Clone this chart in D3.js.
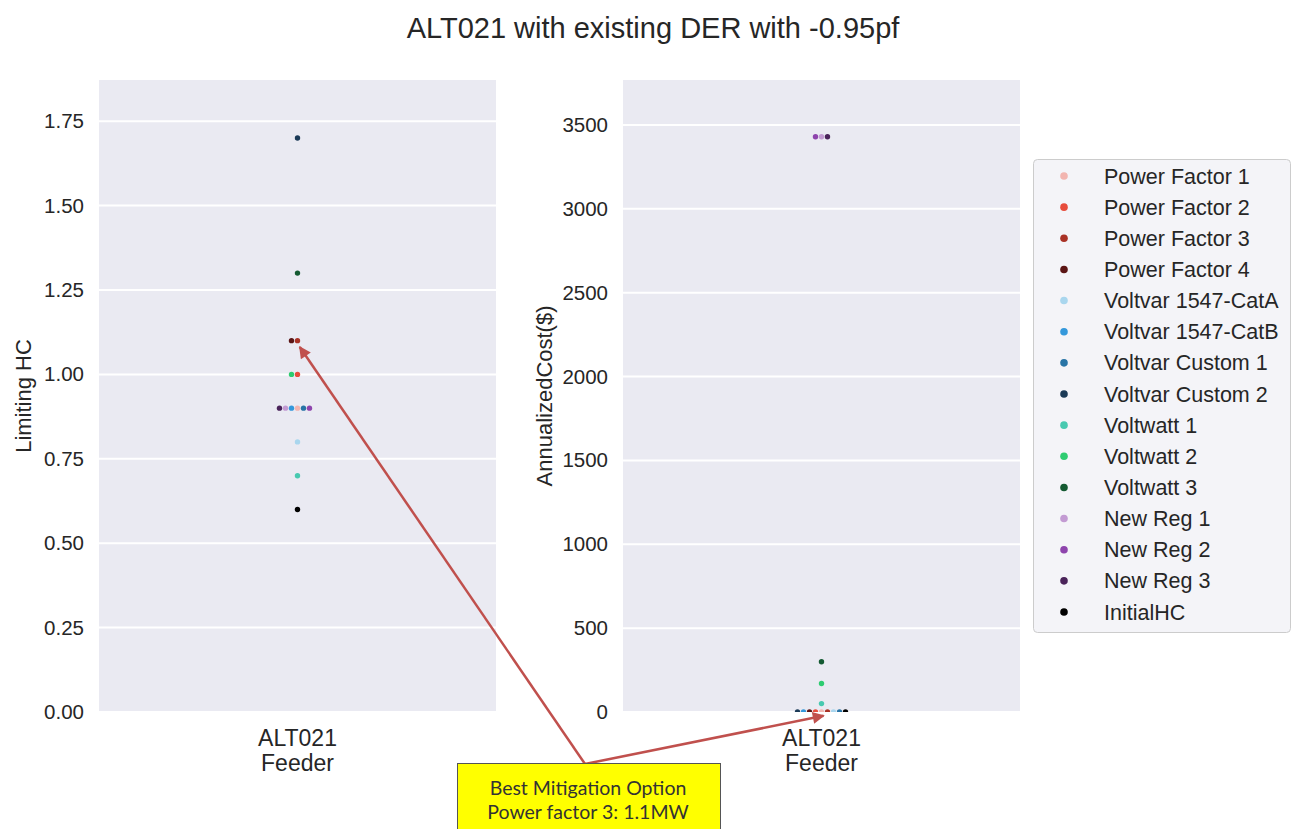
<!DOCTYPE html>
<html>
<head>
<meta charset="utf-8">
<script src="https://cdn.jsdelivr.net/npm/d3@7"></script>
<style>
  body { margin: 0; background: #fff; }
  text { font-family: "Liberation Sans", Arial, sans-serif; fill: #262626; }
</style>
</head>
<body>
<div id="chart"></div>
<script>
// data
const feeders = ['ALT021'];
const options = ['Power Factor 1', 'Power Factor 2', 'Power Factor 3', 'Power Factor 4',
  'Voltvar 1547-CatA', 'Voltvar 1547-CatB', 'Voltvar Custom 1', 'Voltvar Custom 2',
  'Voltwatt 1', 'Voltwatt 2', 'Voltwatt 3', 'New Reg 1', 'New Reg 2', 'New Reg 3', 'InitialHC'];
const optionColors = ['#f2b5b0', '#e74c3c', '#a93226', '#5b1515',
  '#a9d6ee', '#3498db', '#2874a6', '#1b3a57',
  '#48c9b0', '#2ecc71', '#145a32', '#c39bd3', '#8e44ad', '#4a235a', '#000000'];
const limitingHC = [0.9, 1.0, 1.1, 1.1, 0.8, 0.9, 0.9, 1.7, 0.7, 1.0, 1.3, 0.9, 0.9, 0.9, 0.6];
const annualCost = [0, 0, 0, 0, 0, 0, 0, 0, 50, 170, 300, 3430, 3430, 3430, 0];
const hcTicks = [0, 0.25, 0.5, 0.75, 1.0, 1.25, 1.5, 1.75];
const costTicks = [0, 500, 1000, 1500, 2000, 2500, 3000, 3500];
const bestOption = 'Power Factor 3';

const W = 1294, H = 829;
const svg = d3.select("#chart").append("svg")
  .attr("width", W).attr("height", H);

svg.append("text")
  .attr("x", 653).attr("y", 38)
  .attr("text-anchor", "middle")
  .style("font-size", "29px")
  .text("ALT021 with existing DER with -0.95pf");

// simple swarm: equal values spread out center, left, right, left ...
function swarm(values, step) {
  const seen = {};
  return values.map(v => {
    const k = seen[v] || 0;
    seen[v] = k + 1;
    const side = k === 0 ? 0 : (k % 2 === 1 ? -1 : 1) * Math.ceil(k / 2);
    return side * step;
  });
}

function panel(id, left, values, domainMax, ticks, fmt, ylabel, labelX) {
  const top = 80, bottom = 712, width = 397;
  const g = svg.append("g");
  const x = d3.scaleBand().domain(feeders).range([left, left + width]);
  const y = d3.scaleLinear().domain([0, domainMax]).range([bottom, top]);

  g.append("rect")
    .attr("x", left).attr("y", top)
    .attr("width", width).attr("height", bottom - top)
    .attr("fill", "#eaeaf2");

  g.selectAll(".grid").data(ticks).join("line")
    .attr("x1", left).attr("x2", left + width)
    .attr("y1", d => y(d)).attr("y2", d => y(d))
    .attr("stroke", "#fff").attr("stroke-width", 2);

  const yAxis = g.append("g")
    .attr("transform", `translate(${left},0)`)
    .call(d3.axisLeft(y).tickValues(ticks).tickFormat(fmt).tickSize(0).tickPadding(15));
  yAxis.select(".domain").remove();
  yAxis.selectAll("text").style("font-size", "20.5px").attr("fill", "#262626");

  const xAxis = g.append("g")
    .attr("transform", `translate(0,${bottom})`)
    .call(d3.axisBottom(x).tickSize(0).tickPadding(18));
  xAxis.select(".domain").remove();
  xAxis.selectAll("text").style("font-size", "23px").attr("fill", "#262626");

  g.append("text")
    .attr("x", left + width / 2).attr("y", 771)
    .attr("text-anchor", "middle")
    .style("font-size", "23px")
    .text("Feeder");

  g.append("text")
    .attr("transform", `translate(${labelX},${(top + bottom) / 2}) rotate(-90)`)
    .attr("text-anchor", "middle")
    .style("font-size", "22px")
    .text(ylabel);

  svg.append("clipPath").attr("id", id)
    .append("rect").attr("x", left).attr("y", top)
    .attr("width", width).attr("height", bottom - top);

  const offs = swarm(values, 6);
  const cx = i => x(feeders[0]) + x.bandwidth() / 2 + offs[i];
  g.append("g").attr("clip-path", `url(#${id})`)
    .selectAll("circle").data(values).join("circle")
    .attr("cx", (d, i) => cx(i))
    .attr("cy", d => y(d))
    .attr("r", 2.7)
    .attr("fill", (d, i) => optionColors[i]);

  const bi = options.indexOf(bestOption);
  return [cx(bi), y(values[bi])];
}

const p1 = panel("clipL", 99, limitingHC, 1.872, hcTicks, d3.format(".2f"), "Limiting HC", 31);
const p2 = panel("clipR", 623, annualCost, 3768, costTicks, d3.format("d"), "AnnualizedCost($)", 552);

// legend
const lg = svg.append("g");
lg.append("rect")
  .attr("x", 1033.5).attr("y", 159.5)
  .attr("width", 257).attr("height", 473)
  .attr("rx", 4)
  .attr("fill", "#f4f4f8").attr("stroke", "#cccccc");
const ly = d3.scalePoint().domain(options).range([176, 612]);
lg.selectAll("circle").data(options).join("circle")
  .attr("cx", 1064).attr("cy", d => ly(d))
  .attr("r", 3.8)
  .attr("fill", (d, i) => optionColors[i]);
lg.selectAll("text").data(options).join("text")
  .attr("x", 1104).attr("y", d => ly(d))
  .attr("dy", "0.35em")
  .style("font-size", "21.5px")
  .text(d => d);

// annotation
const defs = svg.append("defs");
defs.append("marker")
  .attr("id", "arrow")
  .attr("markerUnits", "userSpaceOnUse")
  .attr("viewBox", "0 0 10 10")
  .attr("refX", 9).attr("refY", 5)
  .attr("markerWidth", 15).attr("markerHeight", 12)
  .attr("orient", "auto")
  .append("path").attr("d", "M0,0 L10,5 L0,10 z").attr("fill", "#c0504d");

const start = [585, 764];
[p1, p2].forEach(p => {
  const dx = p[0] - start[0], dy = p[1] - start[1];
  const len = Math.hypot(dx, dy);
  svg.append("line")
    .attr("x1", start[0]).attr("y1", start[1])
    .attr("x2", p[0] - dx / len * 4).attr("y2", p[1] - dy / len * 4 + 3)
    .attr("stroke", "#c0504d").attr("stroke-width", 2.5)
    .attr("marker-end", "url(#arrow)");
});

svg.append("rect")
  .attr("x", 457.5).attr("y", 763.5)
  .attr("width", 263).attr("height", 70)
  .attr("fill", "#ffff00").attr("stroke", "#555").attr("stroke-width", 1);
svg.selectAll(".note").data(["Best Mitigation Option", "Power factor 3: 1.1MW"]).join("text")
  .attr("x", 588).attr("y", (d, i) => 795 + i * 24)
  .attr("text-anchor", "middle")
  .style("font-family", "Lato, 'Open Sans', sans-serif")
  .style("font-size", "19.5px")
  .style("fill", "#333")
  .text(d => d);
</script>
</body>
</html>
